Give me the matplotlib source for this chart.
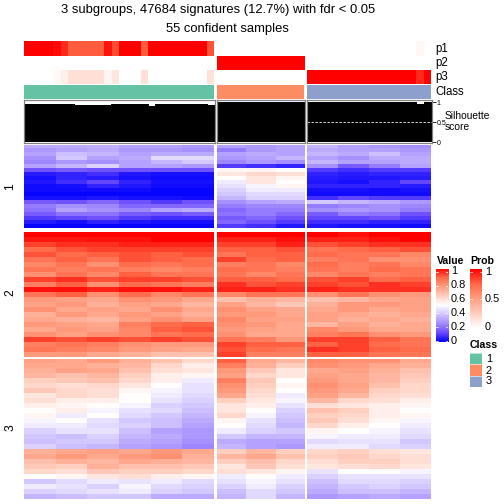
import numpy as np
import matplotlib
matplotlib.use("Agg")
import matplotlib.pyplot as plt
from matplotlib.colors import LinearSegmentedColormap, ListedColormap

plt.rcParams['font.family'] = ['Liberation Sans', 'DejaVu Sans']

TITLE1 = "3 subgroups, 47684 signatures (12.7%) with fdr < 0.05"
TITLE2 = "55 confident samples"

# sample level annotations
P1_G1 = [100,100,100,100,97,90,78,78,78,78,78,95,82,100,100,100,78,100,100,100,100,100,100,100,100,80]
P3_G1 = [0,0,0,0,3,8,16,16,16,16,16,5,12,0,0,0,16,0,0,0,0,0,0,0,0,15]
P1_G3 = [0,0,0,0,0,0,0,0,0,0,0,0,0,0,0,4,0]
P3_G3 = [100,100,100,100,100,100,100,100,100,100,100,100,100,100,100,90,100]
SIL_G1 = [.96,.96,.96,.96,.96,.95,.94,.92,.92,.92,.92,.92,.96,.94,.96,.96,.96,.91,.96,.96,.96,.96,.96,.96,.96,.92]
SIL_G2 = [.995]*12
SIL_G3 = [.995,.995,.995,.995,.995,.995,.995,.995,.995,.995,.995,.995,.995,.995,.995,.94,.995]

# heat map slices: rows of percent values, left to right in each group
S1_G1 = [[32,32,33,30,30,28],[28,30,32,28,28,26],[30,36,34,30,32,32],[26,38,30,32,42,42],[24,28,26,30,34,38],
 [30,34,40,30,30,28],[14,16,14,14,14,14],[5,6,8,4,3,3],[3,6,5,3,2,2],[4,8,12,6,3,3],[2,3,6,4,2,2],[2,2,2,2,1,1],
 [1,1,1,1,1,1],[3,3,4,3,3,2],[16,14,18,14,10,14],[22,26,24,18,18,18],[20,30,26,24,30,32],[16,20,20,16,14,16],
 [10,12,14,10,8,8],[5,3,6,4,3,3],[1,1,1,1,1,1]]
S1_G2 = [[30,28,30],[22,28,30],[30,32,30],[28,30,34],[24,28,26],[10,8,6],[52,52,50],[56,60,58],[50,56,52],[46,56,50],
 [44,48,52],[40,46,46],[38,42,42],[34,40,40],[26,30,32],[22,24,24],[18,22,22],[20,22,18],[16,18,14],[18,14,10],[10,8,4]]
S1_G3 = [[34,30,28,26],[32,30,30,28],[34,32,36,30],[30,26,32,32],[34,30,30,32],[26,16,22,30],[10,8,10,10],[6,5,6,6],
 [5,4,4,5],[4,3,6,12],[6,6,6,5],[3,3,2,3],[2,2,2,2],[8,12,10,10],[38,34,32,28],[22,24,26,24],[26,28,26,22],
 [16,22,20,14],[12,12,14,10],[8,8,6,6],[4,3,3,2]]

S2_G1 = [[100,100,100,100,100,100],[97,97,98,98,100,100],[92,94,94,96,96,96],[86,90,92,92,92,92],[90,86,88,90,88,90],
 [84,88,84,90,88,86],[80,84,78,86,84,86],[84,82,84,82,80,82],[78,84,80,88,84,84],[92,94,90,92,92,90],[82,88,78,86,84,82],
 [98,98,96,98,98,96],[84,88,78,86,80,84],[76,74,72,78,76,72],[74,76,70,74,72,68],[78,72,74,72,78,72],[70,76,72,76,74,70],
 [72,70,68,74,78,74],[76,74,72,82,86,88],[72,76,74,80,88,90],[78,74,78,80,84,86],[92,90,92,90,92,90],[82,84,82,78,76,76],
 [84,82,80,76,74,72],[76,76,72,70,66,66]]
S2_G2 = [[100,100,100],[96,96,98],[92,92,96],[88,88,90],[84,88,88],[92,86,88],[82,84,80],[86,84,82],[84,80,84],[88,88,86],
 [94,90,92],[96,96,94],[80,84,84],[66,70,68],[74,68,64],[78,74,72],[76,76,72],[80,74,74],[78,76,72],[76,74,72],[78,72,72],
 [84,82,76],[92,88,88],[90,86,84],[92,82,82]]
S2_G3 = [[100,98,100,100],[96,96,98,100],[90,92,94,94],[84,86,88,90],[86,84,84,80],[82,84,78,78],[86,82,84,80],[84,82,86,84],
 [80,84,82,84],[90,92,86,88],[92,90,94,92],[96,94,94,94],[78,84,78,76],[66,68,72,74],[70,76,76,74],[72,76,72,74],[74,72,70,72],
 [74,70,72,70],[68,74,70,72],[80,76,72,72],[82,84,78,76],[92,92,88,84],[88,92,86,84],[94,92,88,86],[88,88,84,84]]

S3_G1 = [[74,72,76,70,66,60],[72,72,70,68,60,54],[70,74,72,66,58,56],[68,66,68,62,54,52],[62,64,66,60,54,46],[60,58,60,56,50,44],
 [64,60,58,52,48,44],[56,60,58,50,46,42],[58,54,54,50,44,40],[54,52,50,48,40,38],[50,54,48,44,42,36],[52,46,50,42,38,34],
 [48,50,44,38,36,32],[46,46,42,40,36,30],[40,44,44,36,30,28],[38,36,40,34,32,28],[36,38,38,32,30,26],[40,36,34,30,28,24],
 [70,72,74,72,76,72],[72,76,72,76,78,70],[66,70,68,72,70,68],[64,62,70,66,66,64],[60,58,64,62,62,60],[50,52,56,58,54,52],
 [38,42,46,44,46,42],[46,44,40,48,42,40],[40,42,44,46,40,38],[34,36,38,38,32,32]]
S3_G2 = [[88,72,68],[82,70,62],[76,64,56],[74,60,56],[82,64,50],[78,62,52],[76,60,50],[72,58,46],[62,56,48],[56,54,44],
 [56,50,40],[60,48,38],[52,44,36],[50,42,34],[46,40,38],[38,34,34],[32,30,30],[34,30,28],[62,68,62],[68,72,66],[62,66,60],
 [56,64,58],[58,56,52],[46,50,46],[44,48,44],[40,46,40],[36,42,38],[34,42,34]]
S3_G3 = [[80,78,78,72],[78,76,72,70],[72,74,70,66],[74,72,68,64],[76,72,68,62],[78,74,66,60],[76,72,62,60],[74,68,60,58],
 [68,60,58,54],[58,56,54,52],[66,62,54,50],[62,60,54,52],[64,58,52,48],[60,54,50,46],[52,50,48,44],[48,46,46,42],[42,44,44,38],
 [46,46,42,40],[60,62,58,56],[62,64,60,58],[58,62,62,58],[56,58,60,56],[44,50,50,48],[40,44,44,44],[36,42,42,40],[34,38,40,38],
 [32,36,36,34],[28,30,32,30]]

CLASS_LABELS = ["1", "2", "3"]
CLASS_COLORS = ["#66C2A5", "#FC8D62", "#8DA0CB"]

value_cmap = LinearSegmentedColormap.from_list("value", [(0, "#0000FF"), (.125, "#6A4BFF"), (.25, "#A38CFF"), (.375, "#D2C5FF"),
                                                          (.5, "#FFFFFF"), (.625, "#FFCDBE"), (.75, "#FF9E81"), (.875, "#FF6847"), (1, "#FF0000")])
prob_cmap = LinearSegmentedColormap.from_list("prob", [(0, "#FFFFFF"), (.25, "#FFCDBE"), (.5, "#FF9E81"), (.75, "#FF6847"), (1, "#FF0000")])

W = H = 504
fig = plt.figure(figsize=(7, 7), dpi=72)


def box(x0, y0, x1, y1):
    ax = fig.add_axes([x0 / W, 1 - y1 / H, (x1 - x0) / W, (y1 - y0) / H])
    ax.set_xticks([])
    ax.set_yticks([])
    for s in ax.spines.values():
        s.set_visible(False)
    return ax


GX = [(24, 214), (217, 304), (307, 431)]
fig.text(218 / W, 1 - 10 / H, TITLE1, ha="center", va="center", fontsize=13)
fig.text(227 / W, 1 - 29 / H, TITLE2, ha="center", va="center", fontsize=13)

# annotation strips
P1 = [P1_G1, [0] * 12, P1_G3]
P2 = [[0] * 26, [100] * 12, [0] * 17]
P3 = [P3_G1, [0] * 12, P3_G3]
for (vals, y0, y1) in ((P1, 41, 55.7), (P2, 56, 70), (P3, 70, 84)):
    for g, (x0, x1) in enumerate(GX):
        ax = box(x0, y0, x1, y1)
        ax.imshow(np.array([vals[g]]) / 100, cmap=prob_cmap, vmin=0, vmax=1, aspect="auto", interpolation="nearest")
for name, yc in (("p1", 49), ("p2", 63), ("p3", 77), ("Class", 92)):
    fig.text(435 / W, 1 - yc / H, name, ha="left", va="center", fontsize=11.5)
for g, (x0, x1) in enumerate(GX):
    ax = box(x0, 85, x1, 99.3)
    ax.set_facecolor(CLASS_COLORS[g])

# silhouette
SIL = [SIL_G1, SIL_G2, SIL_G3]
for g, (x0, x1) in enumerate(GX):
    ax = box(x0 - 0.5, 100, x1 + 0.5, 143)
    ax.bar(np.arange(len(SIL[g])), SIL[g], width=1.1, color="black", linewidth=0, antialiased=False)
    ax.set_xlim(-0.5, len(SIL[g]) - 0.5)
    ax.set_ylim(-0.02, 1.05)
    for s in ax.spines.values():
        s.set_visible(True)
        s.set_color("#808080")
        s.set_linewidth(1.2)
    if g == 2:
        ax.axhline(0.5, color="white", lw=0.8, ls=(0, (3, 2)))
        ax.yaxis.tick_right()
        ax.set_yticks([0, .5, 1], ["0", "0.5", "1"], fontsize=7)
        ax.tick_params(axis="y", length=4, width=0.8, pad=1)
fig.text(445 / W, 1 - 116 / H, "Silhouette", ha="left", va="center", fontsize=10.2)
fig.text(445 / W, 1 - 127 / H, "score", ha="left", va="center", fontsize=10.2)

# heat map
SLICES = [((145, 228.3), (S1_G1, S1_G2, S1_G3), "1", 187),
          ((232, 356.7), (S2_G1, S2_G2, S2_G3), "2", 293),
          ((359, 499), (S3_G1, S3_G2, S3_G3), "3", 428)]
for (y0, y1), groups, lab, yc in SLICES:
    for g, (x0, x1) in enumerate(GX):
        ax = box(x0, y0, x1, y1)
        ax.imshow(np.array(groups[g]) / 100, cmap=value_cmap, vmin=0, vmax=1, aspect="auto", interpolation="nearest")
    fig.text(10 / W, 1 - yc / H, lab, rotation=90, ha="center", va="center", fontsize=12)

# legends
grad = np.linspace(1, 0, 256).reshape(-1, 1)
ax = box(436, 269, 448, 342)
ax.imshow(grad, cmap=value_cmap, vmin=0, vmax=1, aspect="auto", extent=(0, 1, -0.015, 1.04))
for v, lab in zip([0, .2, .4, .6, .8, 1], ["0", "0.2", "0.4", "0.6", "0.8", "1"]):
    ax.plot([0, .2], [v, v], color="white", lw=0.7)
    ax.plot([.8, 1], [v, v], color="white", lw=0.7)
    fig.text(451 / W, 1 - (341 - v * 69.5) / H, lab, ha="left", va="center", fontsize=11)
ax.set_xlim(0, 1)
ax.set_ylim(-0.015, 1.04)
ax = box(470, 269, 482, 328)
ax.imshow(grad, cmap=prob_cmap, vmin=0, vmax=1, aspect="auto", extent=(0, 1, -0.02, 1.05))
for v, lab in zip([0, .5, 1], ["0", "0.5", "1"]):
    ax.plot([0, .2], [v, v], color="white", lw=0.7)
    ax.plot([.8, 1], [v, v], color="white", lw=0.7)
    fig.text(485 / W, 1 - (327 - v * 55) / H, lab, ha="left", va="center", fontsize=11)
ax.set_xlim(0, 1)
ax.set_ylim(-0.02, 1.05)
fig.text(437 / W, 1 - 261 / H, "Value", ha="left", va="center", fontsize=10.5, fontweight="bold")
fig.text(470 / W, 1 - 261 / H, "Prob", ha="left", va="center", fontsize=10.5, fontweight="bold")
fig.text(470 / W, 1 - 345 / H, "Class", ha="left", va="center", fontsize=10.5, fontweight="bold")
ax = box(470, 353, 482, 387)
ax.imshow(np.arange(3).reshape(-1, 1), cmap=ListedColormap(CLASS_COLORS), aspect="auto")
for i, lab in enumerate(CLASS_LABELS):
    ax.axhline(i - 0.5, color="white", lw=0.6)
    fig.text(486 / W, 1 - (359.5 + i * 11) / H, lab, ha="left", va="center", fontsize=11)

fig.savefig("out.png", dpi=72)
